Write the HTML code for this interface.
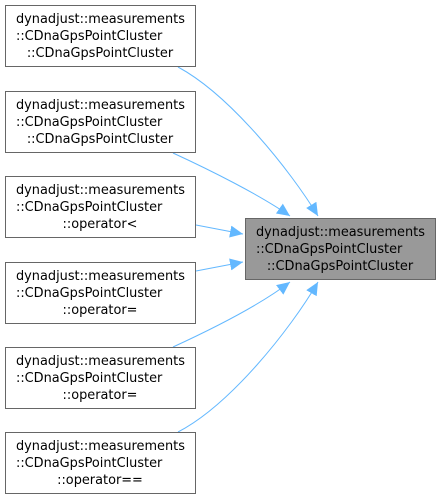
<!DOCTYPE html><html><head><style>body{margin:0;width:441px;height:499px;background:#fff}</style></head><body>
<svg width="441" height="499" xmlns="http://www.w3.org/2000/svg" font-family="DejaVu Sans, Liberation Sans, sans-serif" font-size="12.9">
<defs><marker id="a" markerWidth="14" markerHeight="12" refX="13" refY="6" orient="auto" markerUnits="userSpaceOnUse"><path d="M0,0 L13,6 L0,12 z" fill="#63b8ff"/></marker></defs>
<g fill="none" stroke="#63b8ff" stroke-width="1" marker-end="url(#a)">
<path d="M178,67 C230,95 290,170 318,216"/>
<path d="M173,153 C210,170 260,195 290,216"/>
<path d="M196,225 L243,234"/>
<path d="M196,271 L243,262"/>
<path d="M173,347 C210,330 260,305 290,282"/>
<path d="M178,432 C230,405 290,330 318,282"/>
</g>
<g fill="#fff" stroke="#666">
<rect x="5.5" y="5.5" width="190" height="61"/>
<rect x="5.5" y="91.5" width="190" height="61"/>
<rect x="5.5" y="176.5" width="190" height="61"/>
<rect x="5.5" y="262.5" width="190" height="61"/>
<rect x="5.5" y="347.5" width="190" height="61"/>
<rect x="5.5" y="432.5" width="190" height="61"/>
<rect x="245.5" y="218.5" width="190" height="61" fill="#999"/>
</g>
<g fill="#000">
<text x="16" y="23">dynadjust::measurements</text><text x="16" y="40">::CDnaGpsPointCluster</text><text x="100" y="57" text-anchor="middle">::CDnaGpsPointCluster</text>
<text x="16" y="109">dynadjust::measurements</text><text x="16" y="126">::CDnaGpsPointCluster</text><text x="100" y="143" text-anchor="middle">::CDnaGpsPointCluster</text>
<text x="16" y="194">dynadjust::measurements</text><text x="16" y="211">::CDnaGpsPointCluster</text><text x="100" y="228" text-anchor="middle">::operator&lt;</text>
<text x="16" y="280">dynadjust::measurements</text><text x="16" y="297">::CDnaGpsPointCluster</text><text x="100" y="314" text-anchor="middle">::operator=</text>
<text x="16" y="365">dynadjust::measurements</text><text x="16" y="382">::CDnaGpsPointCluster</text><text x="100" y="399" text-anchor="middle">::operator=</text>
<text x="16" y="450">dynadjust::measurements</text><text x="16" y="467">::CDnaGpsPointCluster</text><text x="100" y="484" text-anchor="middle">::operator==</text>
<text x="256" y="236">dynadjust::measurements</text><text x="256" y="253">::CDnaGpsPointCluster</text><text x="340" y="270" text-anchor="middle">::CDnaGpsPointCluster</text>
</g>
</svg></body></html>
